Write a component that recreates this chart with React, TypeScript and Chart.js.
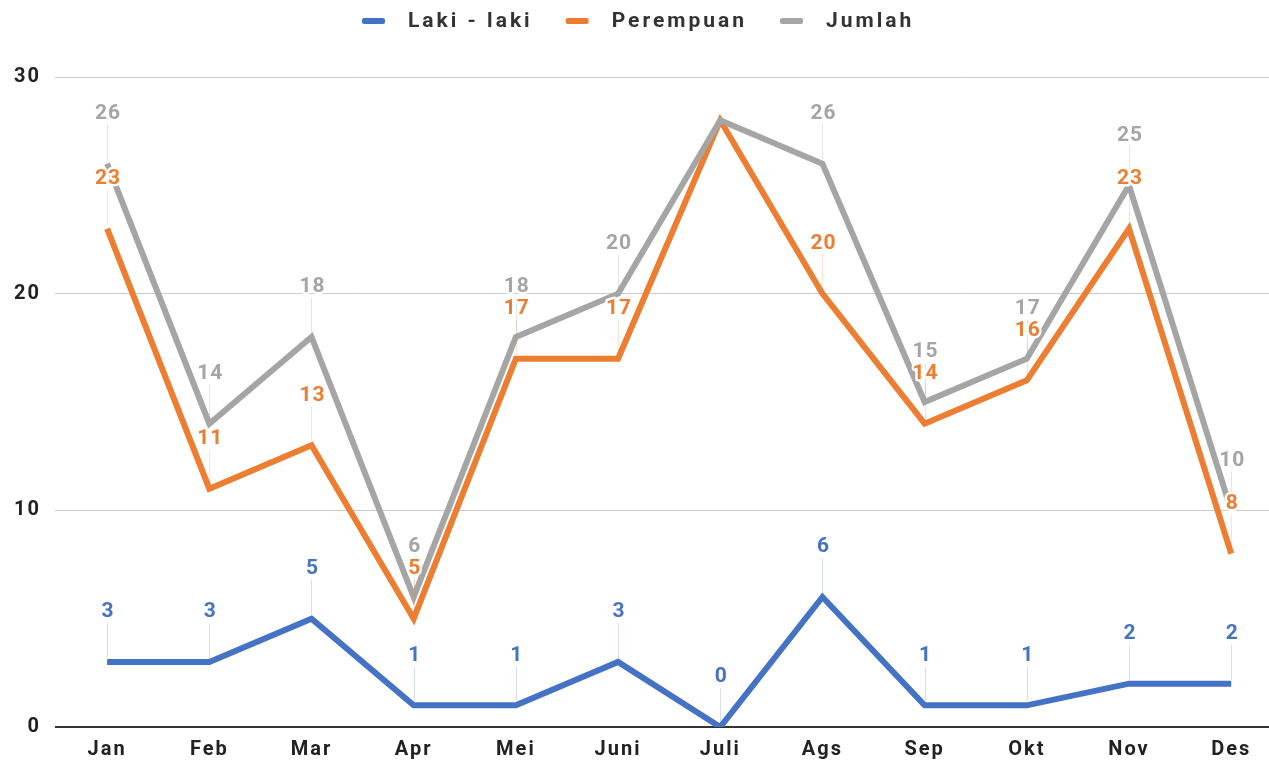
import React, { useEffect, useRef } from "react";
import { Chart, registerables } from "chart.js";

Chart.register(...registerables);

const months = ["Jan", "Feb", "Mar", "Apr", "Mei", "Juni", "Juli", "Ags", "Sep", "Okt", "Nov", "Des"];
const seriesNames = ["Laki - laki", "Perempuan", "Jumlah"];
const lakiLaki = [3, 3, 5, 1, 1, 3, 0, 6, 1, 1, 2, 2];
const perempuan = [23, 11, 13, 5, 17, 17, 28, 20, 14, 16, 23, 8];
const jumlah = [26, 14, 18, 6, 18, 20, 28, 26, 15, 17, 25, 10];
const yTicks = [0, 10, 20, 30];
// month indices whose value labels are not shown in the reference
const hiddenLabels = [[], [6], [6]];

const colors = ["#4472C4", "#ED7D31", "#A5A5A5"];
const leaderColors = ["rgba(68,114,196,0.22)", "rgba(237,125,49,0.22)", "rgba(165,165,165,0.3)"];

const FONT = "Roboto";

const valueLabelPlugin = {
  id: "valueLabels",
  afterDatasetsDraw(chart: any) {
    const ctx = chart.ctx as CanvasRenderingContext2D;
    const items: any[] = [];
    chart.data.datasets.forEach((ds: any, di: number) => {
      const meta = chart.getDatasetMeta(di);
      meta.data.forEach((pt: any, i: number) => {
        if (hiddenLabels[di].includes(i)) return;
        items.push({ x: pt.x, y: pt.y, di, v: ds.data[i].y });
      });
    });
    ctx.save();
    items.forEach((it) => {
      ctx.beginPath();
      ctx.strokeStyle = leaderColors[it.di];
      ctx.lineWidth = 1;
      const x = Math.round(it.x) + 0.5;
      ctx.moveTo(x, it.y - 4);
      ctx.lineTo(x, it.y - 50 + 11);
      ctx.stroke();
    });
    ctx.font = `bold 21px ${FONT}`;
    (ctx as any).letterSpacing = "1px";
    ctx.textAlign = "center";
    ctx.textBaseline = "middle";
    ctx.lineJoin = "round";
    items.forEach((it) => {
      const tx = it.x + 1;
      const ty = it.y - 50;
      ctx.strokeStyle = "rgba(255,255,255,0.95)";
      ctx.lineWidth = 5;
      ctx.strokeText(String(it.v), tx, ty);
      ctx.fillStyle = colors[it.di];
      ctx.fillText(String(it.v), tx, ty);
    });
    ctx.restore();
  },
};

const legendPlugin = {
  id: "customLegend",
  afterDraw(chart: any) {
    const ctx = chart.ctx as CanvasRenderingContext2D;
    ctx.save();
    ctx.font = `bold 21px ${FONT}`;
    (ctx as any).letterSpacing = "3px";
    ctx.textBaseline = "middle";
    ctx.textAlign = "left";
    const sw = 23;
    const g1 = 23;
    const g2 = 33;
    let x = 362;
    const cy = 21;
    seriesNames.forEach((n, i) => {
      ctx.fillStyle = colors[i];
      ctx.beginPath();
      (ctx as any).roundRect(x, cy - 3, sw, 6, 2);
      ctx.fill();
      x += sw + g1;
      ctx.fillStyle = "#333";
      ctx.fillText(n, x, cy + 1);
      x += ctx.measureText(n).width + g2;
    });
    ctx.restore();
  },
};

const spacingPlugin = {
  id: "letterSpacing",
  beforeUpdate(chart: any) {
    (chart.ctx as any).letterSpacing = "2px";
  },
  beforeDraw(chart: any) {
    (chart.ctx as any).letterSpacing = "2px";
  },
};

export default function App() {
  const ref = useRef<HTMLCanvasElement>(null);
  useEffect(() => {
    if (!ref.current) return;
    const mk = (vals: number[]) => vals.map((v, i) => ({ x: i, y: v }));
    const dataSets = [lakiLaki, perempuan, jumlah];
    const chart = new Chart(ref.current, {
      type: "line",
      data: {
        datasets: dataSets.map((vals, i) => ({
          label: seriesNames[i],
          data: mk(vals),
          borderColor: colors[i],
          backgroundColor: colors[i],
          borderWidth: 6,
          pointRadius: 0,
          pointHoverRadius: 0,
          tension: 0,
          borderCapStyle: "butt",
          borderJoinStyle: "miter",
          fill: false,
          order: 3 - i,
        })),
      },
      options: {
        responsive: false,
        animation: false,
        events: [],
        layout: { padding: { top: 77, left: 0, right: 0, bottom: 0 } },
        plugins: {
          legend: { display: false },
          tooltip: { enabled: false },
        },
        scales: {
          x: {
            type: "linear",
            min: -0.51,
            max: 11.37,
            grid: { display: false, drawTicks: false, tickLength: 0 },
            border: { display: false },
            afterBuildTicks: (scale: any) => {
              scale.ticks = months.map((_, i) => ({ value: i }));
            },
            afterFit: (scale: any) => {
              scale.height = 39;
            },
            ticks: {
              autoSkip: false,
              maxRotation: 0,
              padding: 11,
              color: "#222",
              font: { family: FONT, size: 20, weight: "bold" },
              callback: (v: any) => months[Math.round(Number(v))] ?? "",
            },
          },
          y: {
            min: 0,
            max: 30,
            afterBuildTicks: (scale: any) => {
              scale.ticks = yTicks.map((v) => ({ value: v }));
            },
            afterFit: (scale: any) => {
              scale.width = 55;
            },
            border: { display: false },
            grid: {
              drawTicks: false,
              color: (c: any) => (c.tick && c.tick.value === 0 ? "#333" : "#cccccc"),
              lineWidth: (c: any) => (c.tick && c.tick.value === 0 ? 2 : 1),
            },
            ticks: {
              padding: 14,
              color: "#222",
              font: { family: FONT, size: 20, weight: "bold" },
            },
          },
        },
      },
      plugins: [spacingPlugin, valueLabelPlugin, legendPlugin],
    } as any);
    return () => chart.destroy();
  }, []);
  return (
    <div style={{ position: "absolute", left: 0, top: 0, width: 1269, height: 766, background: "#fff" }}>
      <canvas ref={ref} width={1269} height={766} style={{ display: "block" }} />
    </div>
  );
}
